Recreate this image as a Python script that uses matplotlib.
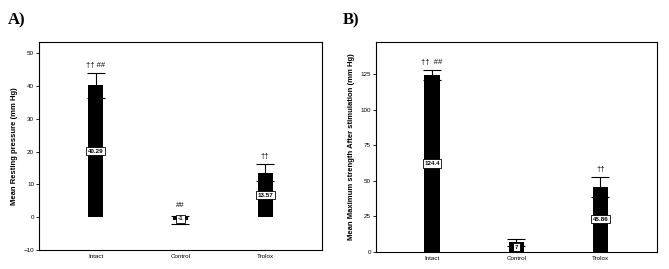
import matplotlib
matplotlib.use("Agg")
import matplotlib.pyplot as plt

plt.rcParams['font.family'] = ['Liberation Sans', 'DejaVu Sans']

groups = ["Intact", "Control", "Trolox"]

# panel A: resting pressure
rest_mean = [40.29, -0.9, 13.57]
rest_err = [3.8, 1.2, 2.6]
rest_labels = ["40.29", "-1", "13.57"]
rest_marks = ["\u2020\u2020 ##", "##", "\u2020\u2020"]

# panel B: maximum strength after stimulation
max_mean = [124.4, 7.0, 45.86]
max_err = [3.6, 2.5, 7.0]
max_labels = ["124.4", "7", "45.86"]
max_marks = ["\u2020\u2020  ##", "", "\u2020\u2020"]

fig = plt.figure(figsize=(6.69, 2.69), dpi=100)
axA = fig.add_axes([0.0583, 0.0706, 0.4227, 0.7734])
axB = fig.add_axes([0.5616, 0.063, 0.42, 0.781])

x = [0, 1, 2]


def draw(ax, means, errs, labels, marks, ylim, ticks, ylabel, mark_gap):
    ax.bar(x, means, width=0.18, color="black", zorder=2)
    ax.errorbar(x, means, yerr=errs, fmt="none", ecolor="black",
                elinewidth=0.8, capsize=6.5, capthick=0.8, zorder=3)
    for xi, m, e, lab, mk in zip(x, means, errs, labels, marks):
        ax.text(xi, m / 2, lab, ha="center", va="center", fontsize=4.5,
                fontweight="bold", zorder=4,
                bbox=dict(boxstyle="square,pad=0.25", fc="white", ec="black", lw=0.6))
        if mk:
            ax.text(xi, max(m, 0) + e + mark_gap, mk, ha="center", va="bottom",
                    fontsize=5.5)
    ax.set_xlim(-0.667, 2.667)
    ax.set_ylim(*ylim)
    ax.set_yticks(ticks)
    ax.set_xticks(x)
    ax.set_xticklabels(groups)
    ax.tick_params(axis="y", labelsize=4.5, length=2.5, width=0.6, pad=1)
    ax.tick_params(axis="x", labelsize=4.5, length=0, pad=3)
    ax.set_ylabel(ylabel, fontsize=5.5, fontweight="bold", labelpad=4)
    for s in ax.spines.values():
        s.set_linewidth(0.8)


draw(axA, rest_mean, rest_err, rest_labels, rest_marks, (-10, 53.5),
     [-10, 0, 10, 20, 30, 40, 50], "Mean Resting pressure (mm Hg)", 1.2)
draw(axB, max_mean, max_err, max_labels, max_marks, (0, 147.5),
     [0, 25, 50, 75, 100, 125],
     "Mean Maximum strength After stimulation (mm Hg)", 2.5)

fig.text(0.012, 0.91, "A)", fontsize=12, fontweight="bold",
         family="Liberation Serif")
fig.text(0.512, 0.91, "B)", fontsize=12, fontweight="bold",
         family="Liberation Serif")

fig.savefig("out.png", dpi=100)
